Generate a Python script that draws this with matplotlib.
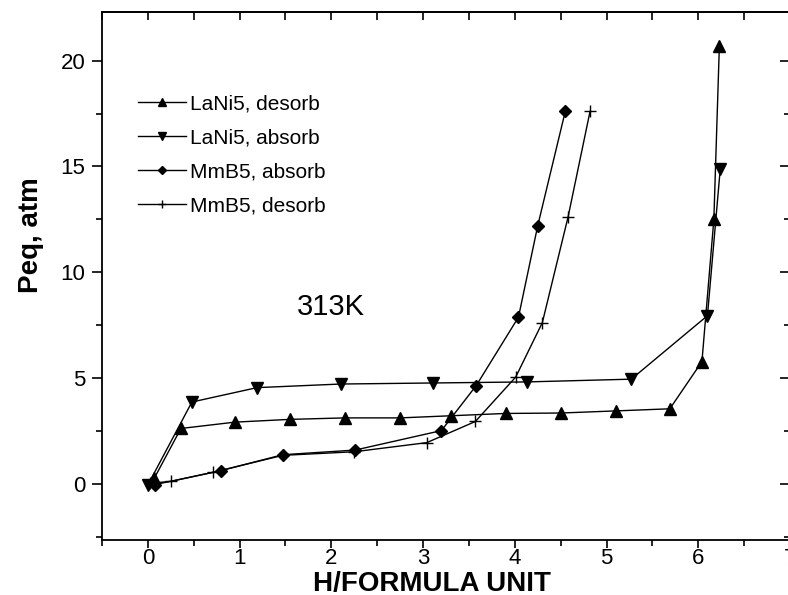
import numpy as np
import matplotlib
matplotlib.use("Agg")
import matplotlib.pyplot as plt
from matplotlib.ticker import MultipleLocator

plt.rcParams['font.family'] = ['Liberation Sans', 'DejaVu Sans']

# LaNi5, desorption branch
lani_des_x = [0.07, 0.36, 0.95, 1.55, 2.15, 2.75, 3.30, 3.90, 4.50, 5.10, 5.69, 6.04, 6.17, 6.23]
lani_des_y = [0.27, 2.62, 2.92, 3.05, 3.12, 3.12, 3.22, 3.33, 3.35, 3.45, 3.55, 5.78, 12.5, 20.7]

# LaNi5, absorption branch
lani_abs_x = [0.00, 0.48, 1.19, 2.10, 3.11, 4.13, 5.27, 6.10, 6.24]
lani_abs_y = [-0.05, 3.87, 4.55, 4.72, 4.77, 4.82, 4.95, 7.95, 14.9]

# MmB5, absorption branch
mm_abs_x = [0.08, 0.80, 1.47, 2.26, 3.20, 3.58, 4.04, 4.25, 4.55]
mm_abs_y = [-0.03, 0.63, 1.38, 1.60, 2.52, 4.65, 7.88, 12.2, 17.6]

# MmB5, desorption branch
mm_des_x = [0.02, 0.25, 0.71, 1.47, 2.25, 3.04, 3.57, 4.01, 4.30, 4.58, 4.82]
mm_des_y = [0.03, 0.12, 0.55, 1.35, 1.52, 1.95, 2.95, 5.05, 7.62, 12.6, 17.6]

fig = plt.figure(figsize=(7.88, 5.95), dpi=100)
# right edge of the frame sits just past the figure border
ax = fig.add_axes([102 / 788, 55 / 595, 688 / 788, 528 / 595])

kw = dict(color='black', lw=1.0)
ax.plot(lani_des_x, lani_des_y, marker='^', ms=8, label='LaNi5, desorb', **kw)
ax.plot(lani_abs_x, lani_abs_y, marker='v', ms=8, label='LaNi5, absorb', **kw)
ax.plot(mm_abs_x, mm_abs_y, marker='D', ms=6.5, label='MmB5, absorb', **kw)
ax.plot(mm_des_x, mm_des_y, marker='+', ms=8, mew=1.0, label='MmB5, desorb', **kw)

ax.set_xlim(-0.5, 7.0)
ax.set_ylim(-2.65, 22.3)

ax.xaxis.set_major_locator(MultipleLocator(1))
ax.xaxis.set_minor_locator(MultipleLocator(0.5))
ax.yaxis.set_major_locator(MultipleLocator(5))
ax.yaxis.set_minor_locator(MultipleLocator(2.5))
ax.tick_params(which='major', direction='out', length=7, width=1.2, labelsize=16)
ax.tick_params(which='minor', direction='out', length=4, width=1.2)
ax.tick_params(axis='x', which='major', length=6, pad=0)
ax.tick_params(axis='y', which='major', pad=5)

for sp in ax.spines.values():
    sp.set_linewidth(1.3)

# inward ticks on the top and right frame
top = ax.secondary_xaxis('top')
top.xaxis.set_major_locator(MultipleLocator(0.5))
top.tick_params(direction='in', length=6, width=1.2, labeltop=False)
top.spines['top'].set_linewidth(1.3)
right = ax.secondary_yaxis('right')
right.yaxis.set_major_locator(MultipleLocator(5))
right.yaxis.set_minor_locator(MultipleLocator(2.5))
right.tick_params(which='major', direction='in', length=7, width=1.2, labelright=False)
right.tick_params(which='minor', direction='in', length=4, width=1.2)

ax.set_xlabel('H/FORMULA UNIT', fontsize=20, fontweight='bold')
ax.xaxis.set_label_coords(0.48, -0.058)
ax.set_ylabel('Peq, atm', fontsize=20, fontweight='bold')
ax.yaxis.set_label_coords(-0.085, 0.578)

ax.text(2.0, 8.35, '313K', fontsize=21, ha='center', va='center')

ax.legend(loc='upper left', bbox_to_anchor=(0.04, 0.86), frameon=False,
          fontsize=15, handlelength=2.3, handletextpad=0.2, labelspacing=0.72,
          markerscale=0.7, borderaxespad=0)

fig.savefig('out.png', dpi=100)
